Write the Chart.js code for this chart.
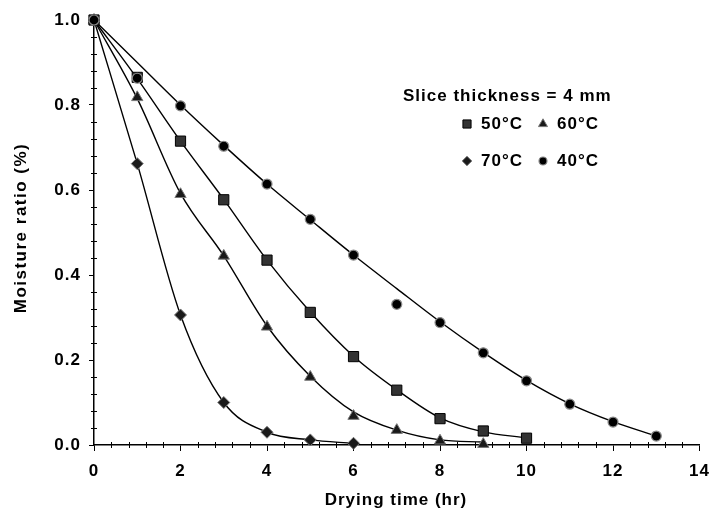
<!DOCTYPE html>
<html>
<head>
<meta charset="utf-8">
<script src="https://cdn.jsdelivr.net/npm/chart.js@4/dist/chart.umd.min.js"></script>
<style>
html,body{margin:0;padding:0;background:#fff;}
#wrap{width:719px;height:516px;position:relative;}
</style>
</head>
<body>
<div id="wrap"><canvas id="c" width="719" height="516"></canvas></div>
<script>
// ---- data ----
const hours40 = [0,1,2,3,4,5,6,7,8,9,10,11,12,13];
const mr40    = [1.0,0.863,0.798,0.703,0.614,0.531,0.447,0.331,0.288,0.217,0.151,0.096,0.054,0.021];
const fit40   = [1.0,0.900,0.800,0.705,0.614,0.530,0.447,0.368,0.290,0.218,0.152,0.097,0.055,0.021];

const hours50 = [0,1,2,3,4,5,6,7,8,9,10];
const mr50    = [1.0,0.865,0.715,0.577,0.435,0.312,0.208,0.129,0.062,0.033,0.016];
const fit50   = [1.0,0.862,0.715,0.578,0.435,0.313,0.209,0.130,0.064,0.031,0.017];

const hours60 = [0,1,2,3,4,5,6,7,8,9];
const mr60    = [1.0,0.818,0.590,0.445,0.278,0.160,0.068,0.035,0.010,0.002];
const fit60   = [1.0,0.815,0.592,0.445,0.280,0.162,0.078,0.035,0.012,0.007];

const hours70 = [0,1,2,3,4,5,6];
const mr70    = [1.0,0.662,0.306,0.100,0.030,0.012,0.004];
const fit70   = [1.0,0.662,0.306,0.100,0.030,0.012,0.004];

const xTicks = [0,2,4,6,8,10,12,14];
const yTicks = [0.0,0.2,0.4,0.6,0.8,1.0];
const legendTitle = 'Slice thickness = 4 mm';
const xTitle = 'Drying time (hr)';
const yTitle = 'Moisture ratio (%)';

// ---- helpers ----
const FONT = "'Liberation Sans', Arial, sans-serif";
const pts = (xs, ys) => xs.map((x, i) => ({x: x, y: ys[i]}));

const markerStyle = {
  '40°C': {pointStyle:'circle',  radius:5,   bg:'#000000', border:'#8a8a8a', bw:1.2},
  '50°C': {pointStyle:'rect',    radius:7.2, bg:'#333333', border:'#000000', bw:1},
  '60°C': {pointStyle:'triangle',radius:6.5, bg:'#1a1a1a', border:'#777777', bw:1},
  '70°C': {pointStyle:'rectRot', radius:6,   bg:'#1a1a1a', border:'#777777', bw:1}
};

function markerDs(label, xs, ys, order) {
  const m = markerStyle[label];
  return {
    label: label, data: pts(xs, ys), showLine: false, order: order, clip: false,
    pointStyle: m.pointStyle, pointRadius: m.radius, pointHoverRadius: m.radius,
    pointBackgroundColor: m.bg, pointBorderColor: m.border, pointBorderWidth: m.bw
  };
}
function fitDs(label, xs, ys) {
  return {
    label: label + ' fit', data: pts(xs, ys), showLine: true, order: 10, clip: false,
    borderColor: '#000', borderWidth: 1.4, pointRadius: 0, fill: false,
    cubicInterpolationMode: 'monotone'
  };
}

// minor ticks + custom text (titles, legend)
const decor = {
  id: 'decor',
  beforeDraw(chart) { chart.ctx.letterSpacing = '1px'; },
  afterDraw(chart) {
    const ctx = chart.ctx;
    const xs = chart.scales.x, ys = chart.scales.y;
    const x0 = xs.getPixelForValue(0), y0 = ys.getPixelForValue(0);
    ctx.save();
    ctx.strokeStyle = '#000';
    ctx.lineWidth = 1;
    ctx.beginPath();
    for (let i = 1; i < 35; i++) {
      if (i % 5 === 0) continue;
      const px = Math.round(xs.getPixelForValue(i * 0.4)) + 0.5;
      ctx.moveTo(px, y0 - 3); ctx.lineTo(px, y0 + 3);
    }
    for (let i = 1; i < 25; i++) {
      if (i % 5 === 0) continue;
      const py = Math.round(ys.getPixelForValue(i * 0.04)) + 0.5;
      ctx.moveTo(x0 - 3, py); ctx.lineTo(x0 + 3, py);
    }
    ctx.stroke();

    // axis titles
    ctx.fillStyle = '#000';
    ctx.letterSpacing = '1px';
    ctx.font = 'bold 17px ' + FONT;
    ctx.textAlign = 'center';
    ctx.textBaseline = 'middle';
    ctx.fillText(xTitle, 396, 500);
    ctx.save();
    ctx.translate(21, 228);
    ctx.rotate(-Math.PI / 2);
    ctx.letterSpacing = '1.5px';
    ctx.fillText(yTitle, 0, 0);
    ctx.restore();

    // legend
    ctx.letterSpacing = '1px';
    ctx.textAlign = 'left';
    ctx.fillText(legendTitle, 403, 96);
    const entries = [
      ['50°C', 467, 124], ['60°C', 543, 124],
      ['70°C', 467, 161], ['40°C', 543, 161]
    ];
    entries.forEach(([lab, mx, my]) => {
      const m = markerStyle[lab];
      ctx.fillStyle = m.bg; ctx.strokeStyle = m.border; ctx.lineWidth = m.bw;
      Chart.helpers.drawPoint(ctx, {pointStyle: m.pointStyle, radius: m.radius * 0.8, rotation: 0, borderWidth: m.bw}, mx, my);
      ctx.fillStyle = '#000';
      ctx.fillText(lab, mx + 14, my);
    });
    ctx.restore();
  }
};

const chart = new Chart(document.getElementById('c'), {
  type: 'scatter',
  data: {
    datasets: [
      markerDs('40°C', hours40, mr40, 0),
      markerDs('50°C', hours50, mr50, 1),
      markerDs('60°C', hours60, mr60, 2),
      markerDs('70°C', hours70, mr70, 3),
      fitDs('40°C', hours40, fit40),
      fitDs('50°C', hours50, fit50),
      fitDs('60°C', hours60, fit60),
      fitDs('70°C', hours70, fit70)
    ]
  },
  options: {
    responsive: false,
    animation: false,
    devicePixelRatio: 1,
    layout: {padding: {top: 20, right: 11, left: 0, bottom: 0}},
    plugins: {legend: {display: false}, tooltip: {enabled: false}},
    scales: {
      x: {
        type: 'linear', min: 0, max: 14,
        afterBuildTicks: s => { s.ticks = xTicks.map(v => ({value: v})); },
        afterFit: s => { s.height = 71; },
        ticks: {color: '#000', font: {family: FONT, size: 17, weight: 'bold'}, padding: 10,
                callback: v => String(v)},
        grid: {drawOnChartArea: false, drawTicks: true, tickLength: 6, color: '#000', tickWidth: 1},
        border: {color: '#000', width: 1.5}
      },
      y: {
        type: 'linear', min: 0, max: 1,
        afterBuildTicks: s => { s.ticks = yTicks.map(v => ({value: v})); },
        afterFit: s => { s.width = 94; },
        ticks: {color: '#000', font: {family: FONT, size: 17, weight: 'bold'}, padding: 8,
                callback: v => Number(v).toFixed(1)},
        grid: {drawOnChartArea: false, drawTicks: true, tickLength: 5, color: '#000', tickWidth: 1},
        border: {color: '#000', width: 1.5}
      }
    }
  },
  plugins: [decor]
});
</script>
</body>
</html>
